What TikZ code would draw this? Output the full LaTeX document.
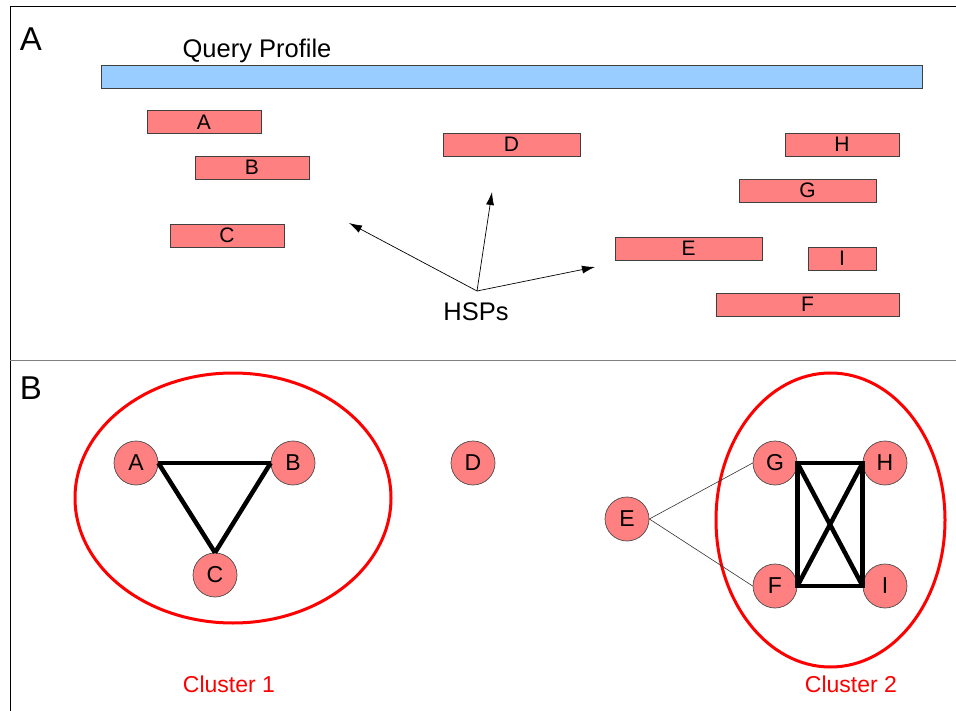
\documentclass[tikz,border=0pt]{standalone}
\usepackage{fontspec}
\setmainfont{Liberation Sans}
\usetikzlibrary{arrows.meta,shapes.geometric}
\definecolor{qblue}{HTML}{99CCFF}
\definecolor{hsp}{HTML}{FF8080}
\definecolor{clred}{HTML}{FF0000}
\begin{document}
\begin{tikzpicture}[x=1pt,y=-1pt,
  bar/.style={draw=black!75,line width=0.8pt,fill=hsp,inner sep=0pt},
  vert/.style={circle,draw=black!70,line width=0.7pt,fill=hsp,minimum size=44pt,inner sep=0pt,font=\fontsize{23}{25}\selectfont},
  strong/.style={line width=4.5pt},
  weak/.style={line width=0.6pt,black!80},
  cluster/.style={draw=clred,line width=3pt},
  clabel/.style={text=clred,font=\fontsize{23}{25}\selectfont},
  hsparrow/.style={line width=0.7pt,-{Latex[length=13pt,width=8pt]}},
  barlabel/.style={font=\fontsize{21}{23}\selectfont}]
\useasboundingbox (0,0) rectangle (956,711);

% panel frame and divider
\draw[line width=1pt] (10,711) -- (10,7) -- (956,7);
\draw[line width=1pt,black!50] (10,360) -- (956,360);
\node[font=\fontsize{33}{35}\selectfont] (pA) at (31,39) {A};
\node[font=\fontsize{33}{35}\selectfont] (pB) at (31,388) {B};

% query profile
\node[font=\fontsize{25.5}{28}\selectfont] (qlabel) at (257,51) {Query Profile};
\node[draw=black!75,line width=0.9pt,fill=qblue,minimum width=821pt,minimum height=23pt,inner sep=0pt] (query) at (511.5,76.5) {};

% HSP bars
\newcommand\hspbar[4]{%
  \node[bar,minimum width=#3pt,minimum height=23pt] (#1) at (#2) {};
  \node[barlabel] (#1l) at (#1) {#4};}
\hspbar{ba}{204,122}{114}{A}
\hspbar{bb}{252,167.5}{114}{B}
\hspbar{bc}{227,235.5}{114}{C}
\hspbar{bd}{511.5,144.5}{137}{D}
\hspbar{bh}{842,144.5}{114}{H}
\hspbar{bg}{807.5,190.5}{137}{G}
\hspbar{be}{688.5,248.5}{147}{E}
\hspbar{bi}{842,258.5}{68}{I}
\hspbar{bf}{807.5,304.5}{183}{F}

% pointer arrows
\coordinate (hsrc) at (477,291);
\coordinate (t1) at (349,223);
\coordinate (t2) at (492,192);
\coordinate (t3) at (595,267);
\draw[hsparrow] (hsrc) -- (t1);
\draw[hsparrow] (hsrc) -- (t2);
\draw[hsparrow] (hsrc) -- (t3);
\node[font=\fontsize{25.5}{28}\selectfont] (hsps) at (476,312) {HSPs};

% clusters
\node[cluster,ellipse,minimum width=316pt,minimum height=250pt,inner sep=0pt] (c1) at (233,498) {};
\node[cluster,ellipse,minimum width=229pt,minimum height=294pt,inner sep=0pt] (c2) at (830.5,520) {};
\node[clabel] (c1l) at (229,684) {Cluster 1};
\node[clabel] (c2l) at (851,684) {Cluster 2};

% graph vertices
\node[vert] (A) at (136,463) {A};
\node[vert] (B) at (293,463) {B};
\node[vert] (C) at (215,575) {C};
\node[vert] (D) at (473,463) {D};
\node[vert] (E) at (627,519) {E};
\node[vert] (G) at (775,463) {G};
\node[vert] (H) at (885,463) {H};
\node[vert] (F) at (775,586) {F};
\node[vert] (I) at (885,586) {I};

% edges
\draw[strong] (A.east) -- (B.west);
\draw[strong] (A.east) -- (C.north);
\draw[strong] (B.west) -- (C.north);
\draw[weak] (E.east) -- (G.west);
\draw[weak] (E.east) -- (F.west);
\draw[strong,line join=miter] (G.east) -- (H.west) -- (I.west) -- (F.east) -- cycle;
\draw[strong] (G.east) -- (I.west);
\draw[strong] (H.west) -- (F.east);
\end{tikzpicture}
\end{document}
